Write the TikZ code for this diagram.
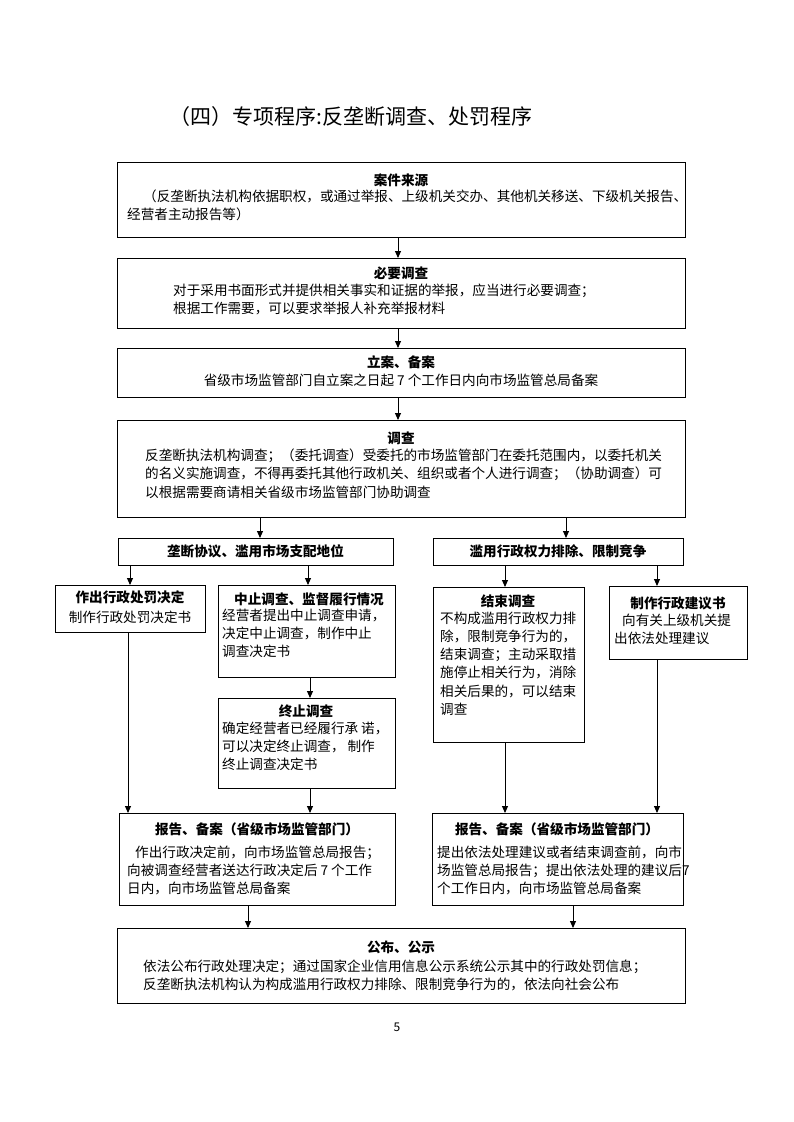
\documentclass[tikz,border=0pt]{standalone}
\usepackage{fontspec}
\newfontfamily\cjk{Noto Sans CJK SC}
\usetikzlibrary{arrows.meta}
\newcommand\fsz{\fontsize{13.6}{18.1}\selectfont}
\begin{document}
\begin{tikzpicture}[x=1pt,y=-1pt,
  box/.style={draw, line width=1pt, inner sep=0pt, anchor=north west},
  tt/.style={inner sep=0pt, font=\cjk\fsz\bfseries},
  tc/.style={inner sep=0pt, font=\cjk\fsz},
  tx/.style={inner sep=0pt, font=\cjk\fsz, align=left, anchor=north west},
  arr/.style={line width=0.9pt, -{Triangle[length=7pt,width=6pt]}}]
\path[use as bounding box, fill=white] (0,0) rectangle (793,1122);

% page title
\node[inner sep=0pt, font=\cjk\fontsize{21}{25}\selectfont] (ttl) at (351,117) {（四）专项程序:反垄断调查、处罚程序};

% boxes
\node[box, minimum width=568pt, minimum height=75pt] (b1) at (117,162) {};
\node[box, minimum width=568pt, minimum height=70pt] (b2) at (117,258) {};
\node[box, minimum width=568pt, minimum height=49pt] (b3) at (117,348) {};
\node[box, minimum width=568pt, minimum height=97pt] (b4) at (117,420) {};
\node[box, minimum width=275pt, minimum height=27pt] (b5l) at (118,538) {};
\node[box, minimum width=250pt, minimum height=27pt] (b5r) at (433,538) {};
\node[box, minimum width=150pt, minimum height=47pt] (b6a) at (55,585) {};
\node[box, minimum width=177pt, minimum height=92pt] (b6b) at (218,585) {};
\node[box, minimum width=177pt, minimum height=90pt] (b6c) at (218,698) {};
\node[box, minimum width=151pt, minimum height=155pt] (b7a) at (433,587) {};
\node[box, minimum width=138pt, minimum height=73pt] (b7b) at (609,586) {};
\node[box, minimum width=276pt, minimum height=92pt] (b8l) at (119,813) {};
\node[box, minimum width=251pt, minimum height=92pt] (b8r) at (432,813) {};
\node[box, minimum width=568pt, minimum height=75pt] (b9) at (117,928) {};

% texts
\node[tt] (t1) at (401,180) {案件来源};
\node[tx] (x1) at (127,190) {\hspace*{16pt}（反垄断执法机构依据职权，或通过举报、上级机关交办、其他机关移送、下级机关报告、\\经营者主动报告等）};

\node[tt] (t2) at (401,273) {必要调查};
\node[tx] (x2) at (173,284) {对于采用书面形式并提供相关事实和证据的举报，应当进行必要调查；\\根据工作需要，可以要求举报人补充举报材料};

\node[tt] (t3) at (401,362) {立案、备案};
\node[tc] (x3) at (401,380) {省级市场监管部门自立案之日起 7 个工作日内向市场监管总局备案};

\node[tt] (t4) at (401,438) {调查};
\node[tx] (x4) at (145,449) {反垄断执法机构调查；（委托调查）受委托的市场监管部门在委托范围内，以委托机关\\的名义实施调查，不得再委托其他行政机关、组织或者个人进行调查；（协助调查）可\\以根据需要商请相关省级市场监管部门协助调查};

\node[tt] (t5l) at (255.5,551) {垄断协议、滥用市场支配地位};
\node[tt] (t5r) at (558,551) {滥用行政权力排除、限制竞争};

\node[tt] (t6a) at (130,597) {作出行政处罚决定};
\node[tc] (x6a) at (130,617) {制作行政处罚决定书};

\node[tt] (t6b) at (309,599) {中止调查、监督履行情况};
\node[tx] (x6b) at (222,609) {经营者提出中止调查申请，\\决定中止调查，制作中止\\调查决定书};

\node[tt] (t6c) at (306,711) {终止调查};
\node[tx] (x6c) at (222,722) {确定经营者已经履行承 诺，\\可以决定终止调查， 制作\\终止调查决定书};

\node[tt] (t7a) at (508,601) {结束调查};
\node[tx] (x7a) at (440,612) {不构成滥用行政权力排\\除，限制竞争行为的，\\结束调查；主动采取措\\施停止相关行为，消除\\相关后果的，可以结束\\调查};

\node[tt] (t7b) at (678,603) {制作行政建议书};
\node[tx] (x7b) at (614,614) {\hspace*{8pt}向有关上级机关提\\出依法处理建议};

\node[tt] (t8l) at (257,829) {报告、备案（省级市场监管部门）};
\node[tx] (x8l) at (127,846) {\hspace*{8pt}作出行政决定前，向市场监管总局报告；\\向被调查经营者送达行政决定后 7 个工作\\日内，向市场监管总局备案};

\node[tt] (t8r) at (557,829) {报告、备案（省级市场监管部门）};
\node[tx] (x8r) at (437,846) {提出依法处理建议或者结束调查前，向市\\场监管总局报告；提出依法处理的建议后7\\个工作日内，向市场监管总局备案};

\node[tt] (t9) at (401,947) {公布、公示};
\node[tx] (x9) at (143,960) {依法公布行政处理决定；通过国家企业信用信息公示系统公示其中的行政处罚信息；\\反垄断执法机构认为构成滥用行政权力排除、限制竞争行为的，依法向社会公布};

\node[inner sep=0pt, font=\cjk\fontsize{12}{14}\selectfont] (pg) at (397,1027) {5};

% x positions for connectors
\coordinate (c398) at (398,0);
\coordinate (c260) at (260,0);
\coordinate (c566) at (566,0);
\coordinate (c130) at (130,0);
\coordinate (c308) at (308,0);
\coordinate (c505) at (505,0);
\coordinate (c657) at (657,0);
\coordinate (c128) at (128,0);
\coordinate (c310) at (310,0);
\coordinate (c248) at (248,0);
\coordinate (c573) at (573,0);

% connectors
\draw[arr] (b1.south -| c398) -- (b2.north -| c398);
\draw[arr] (b2.south -| c398) -- (b3.north -| c398);
\draw[arr] (b3.south -| c398) -- (b4.north -| c398);
\draw[arr] (b4.south -| c260) -- (b5l.north -| c260);
\draw[arr] (b4.south -| c566) -- (b5r.north -| c566);
\draw[arr] (b5l.south -| c130) -- (b6a.north -| c130);
\draw[arr] (b5l.south -| c308) -- (b6b.north -| c308);
\draw[arr] (b6b.south -| c310) -- (b6c.north -| c310);
\draw[arr] (b5r.south -| c505) -- (b7a.north -| c505);
\draw[arr] (b5r.south -| c657) -- (b7b.north -| c657);
\draw[arr] (b6a.south -| c128) -- (b8l.north -| c128);
\draw[arr] (b6c.south -| c310) -- (b8l.north -| c310);
\draw[arr] (b7a.south -| c505) -- (b8r.north -| c505);
\draw[arr] (b7b.south -| c657) -- (b8r.north -| c657);
\draw[arr] (b8l.south -| c248) -- (b9.north -| c248);
\draw[arr] (b8r.south -| c573) -- (b9.north -| c573);
\end{tikzpicture}
\end{document}
